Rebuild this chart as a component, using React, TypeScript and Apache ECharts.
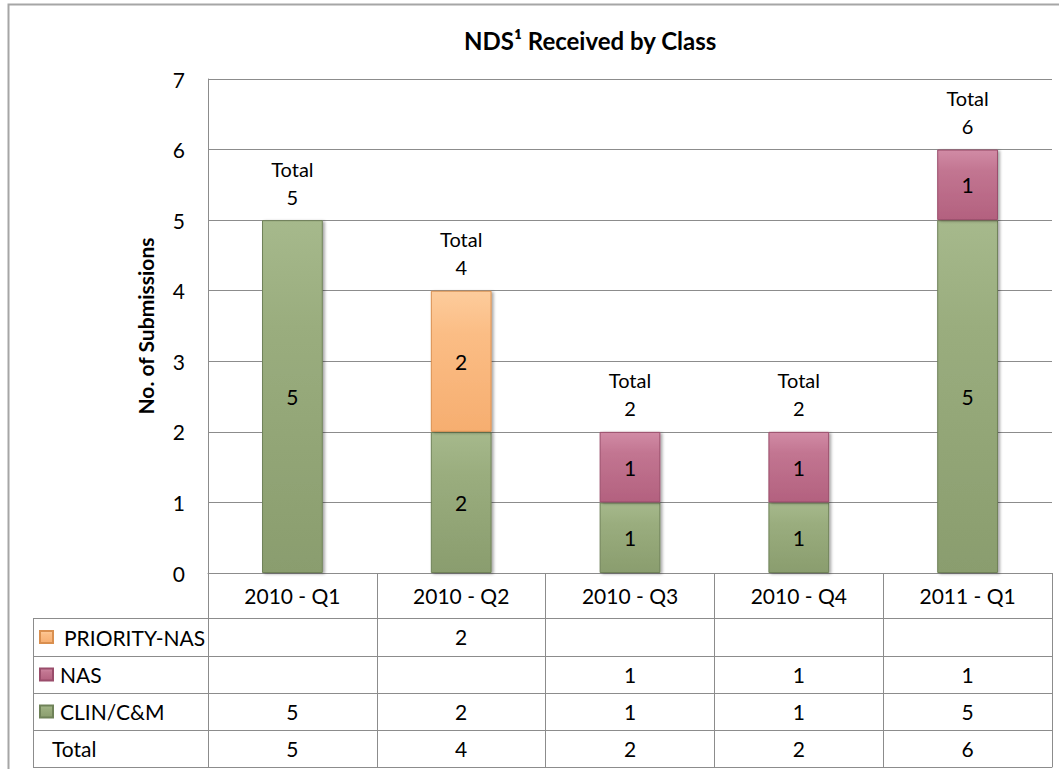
import React, { useEffect, useRef } from "react";
import * as echarts from "echarts";

const categories = ["2010 - Q1", "2010 - Q2", "2010 - Q3", "2010 - Q4", "2011 - Q1"];
const clinValues: (number | null)[] = [5, 2, 1, 1, 5];
const nasValues: (number | null)[] = [null, null, 1, 1, 1];
const priorityValues: (number | null)[] = [null, 2, null, null, null];
const totalValues: number[] = [5, 4, 2, 2, 6];
const seriesNames = ["PRIORITY-NAS", "NAS", "CLIN/C&M"];
const yMin = 0;
const yMax = 7;
const yInterval = 1;

const FONT = 'Lato, "Noto Sans", sans-serif';
const LINE = "#8c8c8c";

const grad = (top: string, mid: string, bottom: string) =>
  new echarts.graphic.LinearGradient(0, 0, 0, 1, [
    { offset: 0, color: top },
    { offset: 0.3, color: mid },
    { offset: 1, color: bottom },
  ]);

const barStyle = (top: string, mid: string, bottom: string, border: string) => ({
  color: grad(top, mid, bottom),
  borderColor: border,
  borderWidth: 1,
  shadowColor: "rgba(0,0,0,0.35)",
  shadowBlur: 3,
  shadowOffsetX: 2,
  shadowOffsetY: 1,
});

const labelStyle = {
  show: true,
  position: "inside" as const,
  fontSize: 21,
  fontFamily: FONT,
  color: "#000",
};

export default function App() {
  const ref = useRef<HTMLDivElement>(null);
  useEffect(() => {
    if (!ref.current) return;
    const chart = echarts.init(ref.current, null, { renderer: "svg" });

    const rowOffsets = [45, 83, 120, 157];
    const rows: (number | null)[][] = [priorityValues, nasValues, clinValues, totalValues];
    const rowHeights = [38, 37, 37, 37];

    const baseAxis = {
      type: "category" as const,
      data: categories,
      position: "bottom" as const,
      axisLine: { show: true, onZero: false, lineStyle: { color: LINE, width: 1 } },
      splitLine: { show: false },
    };

    const xAxes: any[] = [
      {
        ...baseAxis,
        offset: 0,
        axisTick: { show: true, interval: 0, length: 45, lineStyle: { color: LINE } },
        axisLabel: { interval: 0, margin: 12, fontSize: 21, lineHeight: 21, color: "#000", fontFamily: FONT },
      },
    ];
    rows.forEach((row, r) => {
      xAxes.push({
        ...baseAxis,
        offset: rowOffsets[r],
        axisTick: { show: true, interval: 0, length: rowHeights[r], lineStyle: { color: LINE } },
        axisLabel: {
          interval: 0,
          margin: 8,
          fontSize: 21,
          lineHeight: 21,
          color: "#000",
          fontFamily: FONT,
          formatter: (_v: string, i: number) => (row[i] == null ? "" : String(row[i])),
        },
      });
    });
    xAxes.push({
      ...baseAxis,
      offset: 194,
      axisTick: { show: false },
      axisLabel: { show: false },
    });

    const rowCenters = [637, 674.5, 711.5, 748.5];
    const legends = seriesNames.map((name, i) => ({
      data: [name],
      left: 39,
      top: rowCenters[i] - 10.5,
      orient: "horizontal",
      padding: 0,
      itemWidth: 13,
      itemHeight: 12,
      itemGap: 0,
      icon: "rect",
      selectedMode: false,
      textStyle: { fontSize: 21, lineHeight: 21, color: "#000", fontFamily: FONT, padding: [0, 0, 0, i === 0 ? 6 : 2] },
    }));

    const hLines = [618, 656, 693, 730, 767].map((y) => ({
      type: "line",
      shape: { x1: 33, y1: y + 0.5, x2: 208, y2: y + 0.5 },
      style: { stroke: LINE, lineWidth: 1 },
    }));

    chart.setOption({
      animation: false,
      title: {
        text: "NDS¹ Received by Class",
        left: 459,
        top: 23,
        textStyle: { fontSize: 24, fontWeight: "bold", fontFamily: FONT, color: "#000" },
      },
      legend: legends,
      grid: { left: 208, right: 7, top: 79, bottom: 196, containLabel: false },
      xAxis: xAxes,
      yAxis: {
        type: "value",
        min: yMin,
        max: yMax,
        interval: yInterval,
        name: "No. of Submissions",
        nameLocation: "middle",
        nameRotate: 90,
        nameGap: 52,
        nameTextStyle: { fontSize: 21, fontWeight: "bold", fontFamily: FONT, color: "#000" },
        axisLine: { show: true, lineStyle: { color: LINE } },
        axisTick: { show: false },
        axisLabel: { margin: 23, fontSize: 21, color: "#000", fontFamily: FONT },
        splitLine: { show: true, lineStyle: { color: LINE, width: 1 } },
      },
      series: [
        {
          name: "CLIN/C&M",
          type: "bar",
          stack: "nds",
          barWidth: "36%",
          data: clinValues,
          itemStyle: barStyle("#a6b98c", "#9aad7e", "#8a9d6e", "#6f8258"),
          label: labelStyle,
        },
        {
          name: "NAS",
          type: "bar",
          stack: "nds",
          barWidth: "36%",
          data: nasValues,
          itemStyle: barStyle("#d18ba5", "#c27591", "#b3617f", "#9a4d6b"),
          label: labelStyle,
        },
        {
          name: "PRIORITY-NAS",
          type: "bar",
          stack: "nds",
          barWidth: "36%",
          data: priorityValues,
          itemStyle: barStyle("#fdcc9c", "#fbbd85", "#f6ae70", "#d98f4f"),
          label: labelStyle,
        },
        {
          name: "Total",
          type: "line",
          data: totalValues,
          symbol: "circle",
          symbolSize: 1,
          itemStyle: { color: "rgba(0,0,0,0)" },
          lineStyle: { width: 0, opacity: 0 },
          silent: true,
          z: 10,
          label: {
            show: true,
            position: "top",
            distance: 9,
            formatter: (p: any) => `Total\n${p.value}`,
            fontSize: 20,
            lineHeight: 28,
            color: "#000",
            fontFamily: FONT,
          },
        },
      ],
      graphic: [
        {
          type: "rect",
          shape: { x: 8.5, y: 4.5, width: 1100, height: 800 },
          style: { fill: "none", stroke: "#a6a6a6", lineWidth: 2 },
          silent: true,
        },
        ...hLines,
        {
          type: "line",
          shape: { x1: 33.5, y1: 618, x2: 33.5, y2: 767 },
          style: { stroke: LINE, lineWidth: 1 },
        },
        {
          type: "text",
          x: 52,
          y: 748.5,
          style: { text: "Total", fontSize: 21, fontFamily: FONT, fill: "#000", verticalAlign: "middle" },
        },
      ],
    });
    return () => chart.dispose();
  }, []);

  return (
    <div
      ref={ref}
      style={{ position: "absolute", left: 0, top: 0, width: 1059, height: 769, background: "#fff" }}
    />
  );
}
